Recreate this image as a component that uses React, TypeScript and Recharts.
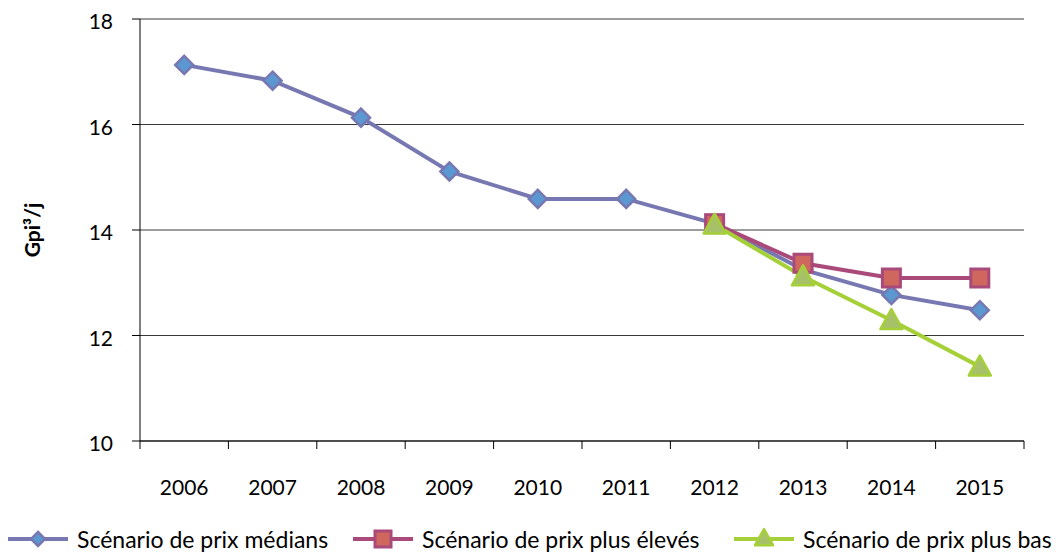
import { CartesianGrid, Line, LineChart, XAxis, YAxis } from "recharts";

const years = ["2006", "2007", "2008", "2009", "2010", "2011", "2012", "2013", "2014", "2015"];
const medianValues = [17.13, 16.83, 16.13, 15.11, 14.59, 14.59, 14.12, 13.25, 12.77, 12.48];
const highValues = [null, null, null, null, null, null, 14.12, 13.37, 13.09, 13.09];
const lowValues = [null, null, null, null, null, null, 14.1, 13.12, 12.29, 11.41];
const yTicks = [10, 12, 14, 16, 18];

const seriesNames = {
  median: "Scénario de prix médians",
  high: "Scénario de prix plus élevés",
  low: "Scénario de prix plus bas",
};

const data = years.map((year, i) => ({
  year,
  median: medianValues[i],
  high: highValues[i],
  low: lowValues[i],
}));

const CHART_W = 1060;
const CHART_H = 552;
const MARGIN = { top: 19, right: 36, left: 0, bottom: 51 };
const YAXIS_W = 140;
const BAND = (CHART_W - MARGIN.left - MARGIN.right - YAXIS_W) / years.length;

const FONT = "Lato, 'Open Sans', sans-serif";

const COLORS = {
  median: { line: "#7778b1", fill: "#5b97d0" },
  high: { line: "#a94a7b", fill: "#d0675f" },
  low: { line: "#a5d038", fill: "#a7c169" },
};

type DotProps = { cx?: number | null; cy?: number | null; index?: number; value?: number | null };

function Diamond({ cx, cy, size = 9 }: { cx: number; cy: number; size?: number }) {
  return (
    <polygon
      points={`${cx},${cy - size} ${cx + size},${cy} ${cx},${cy + size} ${cx - size},${cy}`}
      fill={COLORS.median.fill}
      stroke={COLORS.median.line}
      strokeWidth={2.5}
    />
  );
}

function Square({ cx, cy, size = 9 }: { cx: number; cy: number; size?: number }) {
  return (
    <rect
      x={cx - size}
      y={cy - size}
      width={size * 2}
      height={size * 2}
      fill={COLORS.high.fill}
      stroke={COLORS.high.line}
      strokeWidth={3}
    />
  );
}

function Triangle({ cx, cy, size = 11 }: { cx: number; cy: number; size?: number }) {
  return (
    <polygon
      points={`${cx},${cy - size} ${cx + size},${cy + size * 0.8} ${cx - size},${cy + size * 0.8}`}
      fill={COLORS.low.fill}
      stroke={COLORS.low.line}
      strokeWidth={2.5}
      strokeLinejoin="round"
    />
  );
}

const makeDot =
  (Shape: typeof Diamond) =>
  ({ cx, cy, index, value }: DotProps) => {
    if (cx == null || cy == null || value == null) return <g key={`e-${index}`} />;
    return (
      <g key={`d-${index}`}>
        <Shape cx={cx} cy={cy} />
      </g>
    );
  };

// category labels sit mid-band, tick marks go on the band edges
function YearTick(props: any) {
  const { x, y, payload, index } = props;
  const half = BAND / 2;
  return (
    <g>
      <line x1={x - half} x2={x - half} y1={y} y2={y + 8} stroke="#000" />
      {index === years.length - 1 && <line x1={x + half} x2={x + half} y1={y} y2={y + 8} stroke="#000" />}
      <text x={x} y={y + 54} textAnchor="middle" fontSize={21} fill="#000" fontFamily={FONT}>
        {payload.value}
      </text>
    </g>
  );
}

function LegendItem({ label, left, children, color }: { label: string; left: number; children: any; color: string }) {
  return (
    <div style={{ position: "absolute", left, top: 0, display: "flex", alignItems: "center", whiteSpace: "nowrap" }}>
      <svg width={60} height={24} style={{ marginRight: 9 }}>
        <line x1={0} x2={60} y1={12} y2={12} stroke={color} strokeWidth={4} />
        {children}
      </svg>
      <span style={{ fontSize: 23, color: "#000" }}>{label}</span>
    </div>
  );
}

export default function App() {
  return (
    <div style={{ position: "absolute", left: 0, top: 0, width: CHART_W, height: CHART_H, fontFamily: FONT, background: "#fff" }}>
      <LineChart width={CHART_W} height={CHART_H} data={data} margin={MARGIN}>
        <CartesianGrid vertical={false} stroke="#3a3a3a" strokeWidth={1} />
        <XAxis
          dataKey="year"
          axisLine={{ stroke: "#000" }}
          tickLine={false}
          tickSize={0}
          tickMargin={0}
          height={60}
          interval={0}
          padding={{ left: BAND / 2, right: BAND / 2 }}
          tick={<YearTick />}
        />
        <YAxis
          width={YAXIS_W}
          domain={[10, 18]}
          ticks={yTicks}
          axisLine={{ stroke: "#000" }}
          tickLine={{ stroke: "#000" }}
          tickSize={8}
          tickMargin={19}
          tick={{ fontSize: 21, fill: "#000", fontFamily: FONT, dy: 3 }}
          label={{
            content: () => (
              <text
                x={0}
                y={0}
                transform="translate(40, 230) rotate(-90)"
                textAnchor="middle"
                fontSize={21}
                fontWeight="bold"
                fill="#000"
                fontFamily={FONT}
              >
                Gpi³/j
              </text>
            ),
          }}
        />
        <Line
          dataKey="median"
          stroke={COLORS.median.line}
          strokeWidth={4}
          dot={makeDot(Diamond)}
          activeDot={false}
          isAnimationActive={false}
        />
        <Line
          dataKey="high"
          stroke={COLORS.high.line}
          strokeWidth={4}
          dot={makeDot(Square)}
          activeDot={false}
          isAnimationActive={false}
        />
        <Line
          dataKey="low"
          stroke={COLORS.low.line}
          strokeWidth={4}
          dot={makeDot(Triangle)}
          activeDot={false}
          isAnimationActive={false}
        />
      </LineChart>
      <div style={{ position: "absolute", left: 0, top: 525, width: CHART_W, height: 26 }}>
        <LegendItem label={seriesNames.median} left={8} color={COLORS.median.line}>
          <Diamond cx={30} cy={12} size={7} />
        </LegendItem>
        <LegendItem label={seriesNames.high} left={353} color={COLORS.high.line}>
          <Square cx={30} cy={12} size={8} />
        </LegendItem>
        <LegendItem label={seriesNames.low} left={734} color={COLORS.low.line}>
          <Triangle cx={30} cy={11} size={9} />
        </LegendItem>
      </div>
    </div>
  );
}
